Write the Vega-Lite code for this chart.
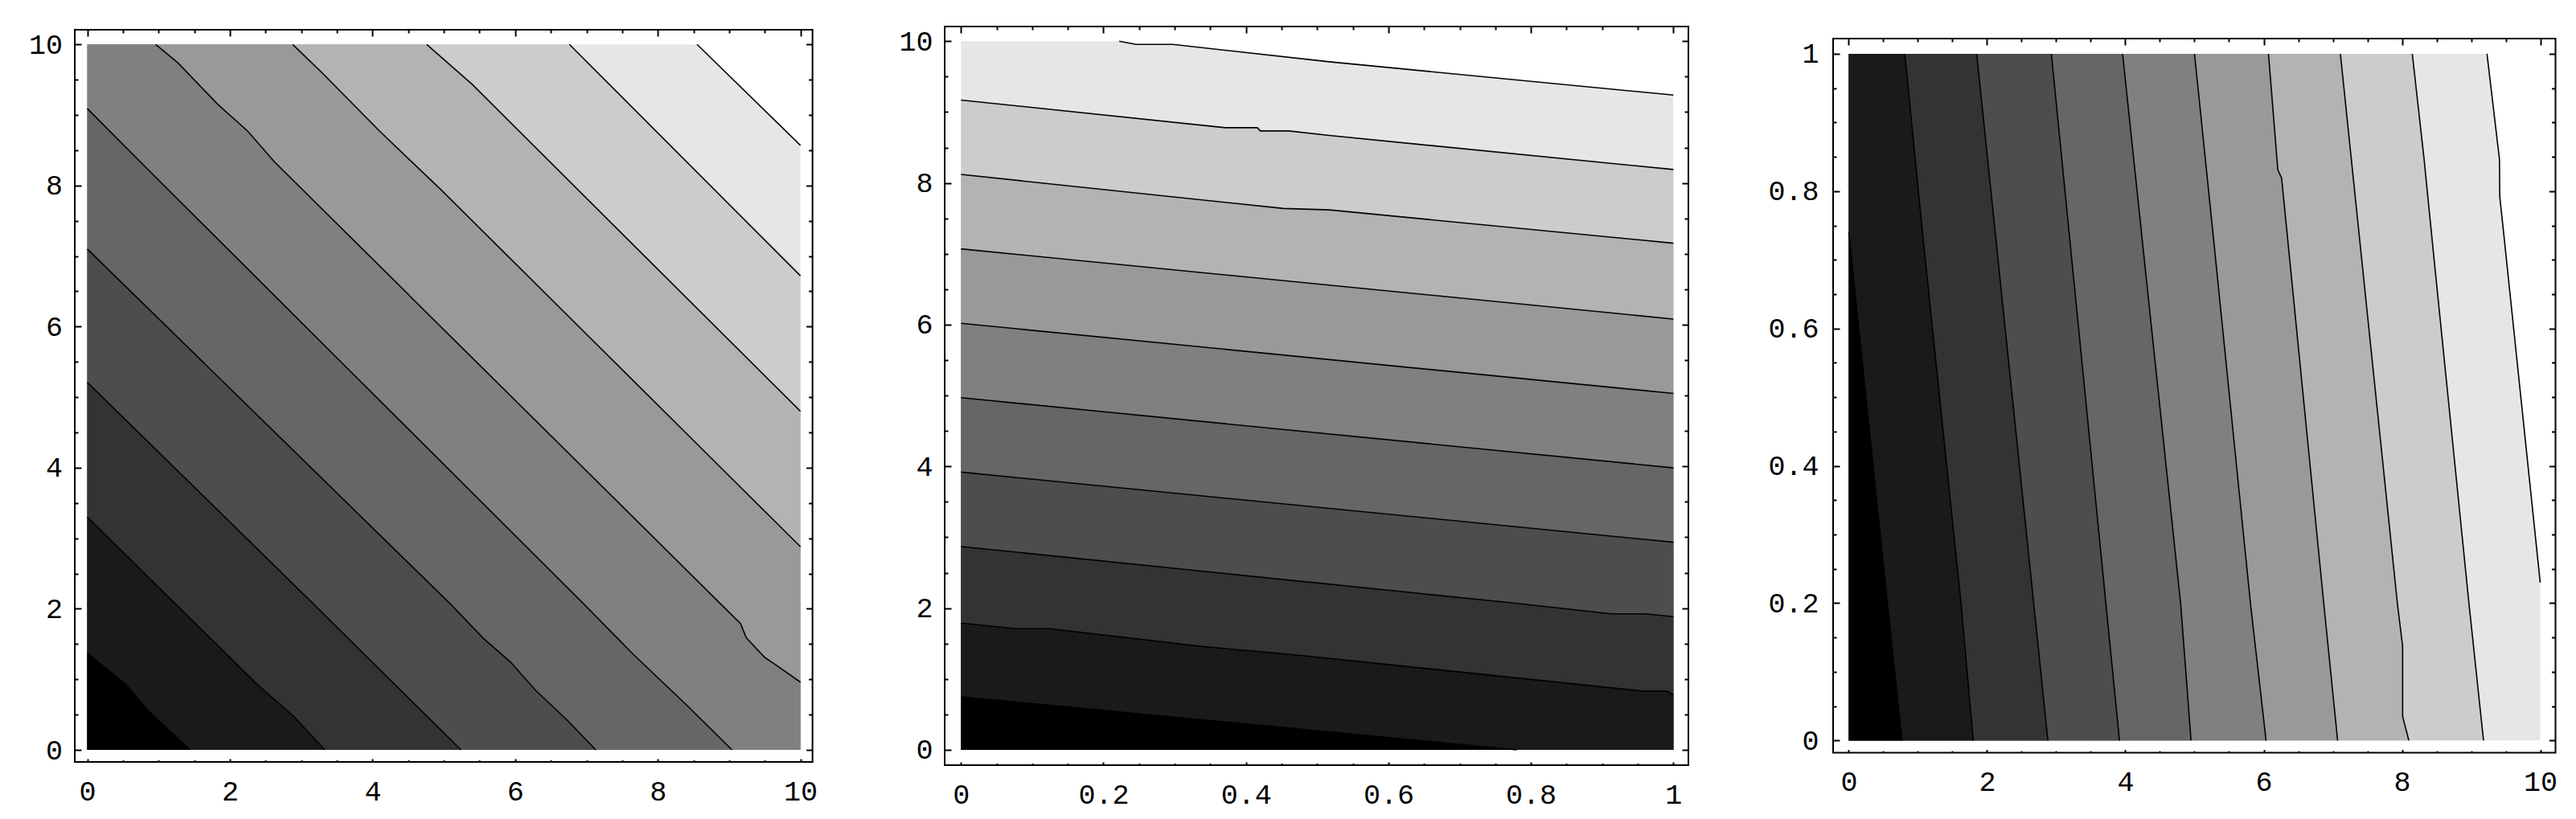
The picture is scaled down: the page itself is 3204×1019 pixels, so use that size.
{
  "$schema": "https://vega.github.io/schema/vega-lite/v6.json",
  "background": "white",
  "padding": {"left": 0, "top": 0, "right": 0, "bottom": 12},
  "spacing": 0,
  "config": {
    "view": {"stroke": "black", "strokeWidth": 2},
    "axis": {"domain": false, "grid": false, "labelFont": "Liberation Mono", "labelFontSize": 35, "labelColor": "black", "tickColor": "black", "tickWidth": 2, "labelFlush": false, "labelOverlap": false, "maxExtent": 400}
  },
  "datasets": {
    "p1": [
      {"c":10,"x":0,"y":10,"l":0},{"c":10,"x":8.55,"y":10,"l":1},{"c":10,"x":10,"y":8.57,"l":1},
      {"c":9,"x":0,"y":10,"l":0},{"c":9,"x":6.76,"y":10,"l":1},{"c":9,"x":10,"y":6.72,"l":1},
      {"c":8,"x":0,"y":10,"l":0},{"c":8,"x":4.76,"y":10,"l":1},{"c":8,"x":5.39,"y":9.44,"l":1},{"c":8,"x":10,"y":4.8,"l":1},
      {"c":7,"x":0,"y":10,"l":0},{"c":7,"x":2.88,"y":10,"l":1},{"c":7,"x":3.28,"y":9.61,"l":1},{"c":7,"x":4.1,"y":8.77,"l":1},{"c":7,"x":4.96,"y":7.94,"l":1},{"c":7,"x":10,"y":2.88,"l":1},
      {"c":6,"x":0,"y":10,"l":0},{"c":6,"x":0.96,"y":10,"l":1},{"c":6,"x":1.27,"y":9.74,"l":1},{"c":6,"x":1.83,"y":9.15,"l":1},{"c":6,"x":2.25,"y":8.77,"l":1},{"c":6,"x":2.62,"y":8.34,"l":1},{"c":6,"x":8.88,"y":2.07,"l":1},{"c":6,"x":9.16,"y":1.79,"l":1},{"c":6,"x":9.24,"y":1.59,"l":1},{"c":6,"x":9.5,"y":1.31,"l":1},{"c":6,"x":9.62,"y":1.23,"l":1},{"c":6,"x":10,"y":0.96,"l":1},
      {"c":5,"x":0,"y":9.09,"l":1},{"c":5,"x":0.857,"y":8.22,"l":1},{"c":5,"x":6.96,"y":2.07,"l":1},{"c":5,"x":7.66,"y":1.35,"l":1},{"c":5,"x":8.41,"y":0.63,"l":1},{"c":5,"x":9.04,"y":0,"l":1},{"c":5,"x":10,"y":0,"l":0},
      {"c":4,"x":0,"y":7.1,"l":1},{"c":4,"x":5.09,"y":2.07,"l":1},{"c":4,"x":5.555,"y":1.58,"l":1},{"c":4,"x":5.93,"y":1.25,"l":1},{"c":4,"x":6.29,"y":0.84,"l":1},{"c":4,"x":6.74,"y":0.41,"l":1},{"c":4,"x":7.13,"y":0,"l":1},{"c":4,"x":10,"y":0,"l":0},
      {"c":3,"x":0,"y":5.21,"l":1},{"c":3,"x":3.17,"y":2.07,"l":1},{"c":3,"x":5.24,"y":0,"l":1},{"c":3,"x":10,"y":0,"l":0},
      {"c":2,"x":0,"y":3.3,"l":1},{"c":2,"x":2.38,"y":0.93,"l":1},{"c":2,"x":2.9,"y":0.47,"l":1},{"c":2,"x":3.33,"y":0,"l":1},{"c":2,"x":10,"y":0,"l":0},
      {"c":1,"x":0,"y":1.37,"l":1},{"c":1,"x":0.54,"y":0.93,"l":1},{"c":1,"x":0.84,"y":0.57,"l":1},{"c":1,"x":1.44,"y":0,"l":1},{"c":1,"x":10,"y":0,"l":0}
    ],
    "p2": [
      {"c":10,"x":0,"y":10,"l":0},{"c":10,"x":0.222,"y":10,"l":1},{"c":10,"x":0.2457,"y":9.955,"l":1},{"c":10,"x":0.2976,"y":9.955,"l":1},{"c":10,"x":0.517,"y":9.71,"l":1},{"c":10,"x":1,"y":9.24,"l":1},
      {"c":9,"x":0,"y":9.17,"l":1},{"c":9,"x":0.371,"y":8.78,"l":1},{"c":9,"x":0.416,"y":8.78,"l":1},{"c":9,"x":0.42,"y":8.735,"l":1},{"c":9,"x":0.46,"y":8.735,"l":1},{"c":9,"x":0.517,"y":8.67,"l":1},{"c":9,"x":1,"y":8.19,"l":1},
      {"c":8,"x":0,"y":8.12,"l":1},{"c":8,"x":0.453,"y":7.64,"l":1},{"c":8,"x":0.517,"y":7.62,"l":1},{"c":8,"x":1,"y":7.15,"l":1},
      {"c":7,"x":0,"y":7.07,"l":1},{"c":7,"x":1,"y":6.08,"l":1},
      {"c":6,"x":0,"y":6.02,"l":1},{"c":6,"x":1,"y":5.03,"l":1},
      {"c":5,"x":0,"y":4.97,"l":1},{"c":5,"x":1,"y":3.98,"l":1},
      {"c":4,"x":0,"y":3.92,"l":1},{"c":4,"x":1,"y":2.93,"l":1},
      {"c":3,"x":0,"y":2.87,"l":1},{"c":3,"x":0.778,"y":2.07,"l":1},{"c":3,"x":0.9135,"y":1.92,"l":1},{"c":3,"x":0.961,"y":1.92,"l":1},{"c":3,"x":1,"y":1.88,"l":1},
      {"c":2,"x":0,"y":1.79,"l":1},{"c":2,"x":0.079,"y":1.71,"l":1},{"c":2,"x":0.125,"y":1.71,"l":1},{"c":2,"x":0.341,"y":1.456,"l":1},{"c":2,"x":0.4605,"y":1.35,"l":1},{"c":2,"x":0.957,"y":0.83,"l":1},{"c":2,"x":0.991,"y":0.83,"l":1},{"c":2,"x":1,"y":0.78,"l":1},
      {"c":1,"x":0,"y":0.75,"l":1},{"c":1,"x":0.517,"y":0.254,"l":1},{"c":1,"x":0.78,"y":0,"l":1},{"c":1,"x":1,"y":0,"l":0}
    ],
    "p3": [
      {"c":10,"x":10,"y":0,"l":0},{"c":10,"x":10,"y":0.23,"l":1},{"c":10,"x":9.485,"y":0.726,"l":1},{"c":10,"x":9.415,"y":0.792,"l":1},{"c":10,"x":9.41,"y":0.847,"l":1},{"c":10,"x":9.23,"y":1,"l":1},
      {"c":9,"x":9.18,"y":0,"l":1},{"c":9,"x":8.97,"y":0.199,"l":1},{"c":9,"x":8.44,"y":0.726,"l":1},{"c":9,"x":8.32,"y":0.847,"l":1},{"c":9,"x":8.15,"y":1,"l":1},
      {"c":8,"x":8.1,"y":0,"l":1},{"c":8,"x":8.01,"y":0.035,"l":1},{"c":8,"x":8.01,"y":0.137,"l":1},{"c":8,"x":7.935,"y":0.199,"l":1},{"c":8,"x":7.11,"y":1,"l":1},
      {"c":7,"x":7.07,"y":0,"l":1},{"c":7,"x":6.87,"y":0.199,"l":1},{"c":7,"x":6.26,"y":0.819,"l":1},{"c":7,"x":6.205,"y":0.831,"l":1},{"c":7,"x":6.07,"y":1,"l":1},
      {"c":6,"x":6.035,"y":0,"l":1},{"c":6,"x":5.81,"y":0.199,"l":1},{"c":6,"x":5.28,"y":0.726,"l":1},{"c":6,"x":5.0,"y":1,"l":1},
      {"c":5,"x":4.95,"y":0,"l":1},{"c":5,"x":4.8,"y":0.199,"l":1},{"c":5,"x":3.96,"y":1,"l":1},
      {"c":4,"x":3.915,"y":0,"l":1},{"c":4,"x":2.93,"y":1,"l":1},
      {"c":3,"x":2.88,"y":0,"l":1},{"c":3,"x":1.85,"y":1,"l":1},
      {"c":2,"x":1.8,"y":0,"l":1},{"c":2,"x":1.624,"y":0.199,"l":1},{"c":2,"x":1.08,"y":0.726,"l":1},{"c":2,"x":0.81,"y":1,"l":1},
      {"c":1,"x":0.77,"y":0,"l":1},{"c":1,"x":0.56,"y":0.199,"l":1},{"c":1,"x":0,"y":0.74,"l":1},{"c":1,"x":0,"y":1,"l":0}
    ]
  },
  "hconcat": [
    {
      "spacing": 0,
      "vconcat": [
        {"width": 10, "height": 35, "data": {"values": []}, "mark": "point", "view": {"stroke": null}},
        {
          "width": 917.6, "height": 911,
          "data": {"name": "p1"},
          "resolve": {"axis": {"x": "independent", "y": "independent"}},
          "layer": [
            {
              "transform": [{"filter": "datum.c >= 6"}],
              "mark": {"type": "area"},
              "encoding": {
                "x": {"field": "x", "type": "quantitative", "scale": {"domain": [-0.176, 10.169], "nice": false, "zero": false}, "axis": {"orient": "bottom", "values": [0,2,4,6,8,10], "tickSize": -4, "labelPadding": 23, "title": null, "labelExpr": "'' + datum.value", "minExtent": 0}},
                "y": {"field": "y", "type": "quantitative", "stack": null, "scale": {"domain": [-0.1709, 10.2085], "nice": false, "zero": false}, "axis": {"orient": "left", "values": [0,2,4,6,8,10], "tickSize": -8, "labelPadding": 23.5, "title": null, "labelExpr": "'' + datum.value", "minExtent": 92}},
                "y2": {"datum": 0},
                "color": {"field": "c", "type": "ordinal", "scale": {"domain": [1,2,3,4,5,6,7,8,9,10], "range": ["#000000","#1a1a1a","#333333","#4d4d4d","#666666","#808080","#999999","#b3b3b3","#cccccc","#e6e6e6"]}, "legend": null}
              }
            },
            {
              "transform": [{"filter": "datum.c <= 5"}],
              "mark": {"type": "area"},
              "encoding": {
                "x": {"field": "x", "type": "quantitative", "scale": {"domain": [-0.176, 10.169], "nice": false, "zero": false}, "axis": {"orient": "bottom", "values": [0.5,1,1.5,2.5,3,3.5,4.5,5,5.5,6.5,7,7.5,8.5,9,9.5], "tickSize": -2.5, "labels": false, "title": null, "minExtent": 0}},
                "y": {"field": "y", "type": "quantitative", "stack": null, "scale": {"domain": [-0.1709, 10.2085], "nice": false, "zero": false}, "axis": {"orient": "left", "values": [0.5,1,1.5,2.5,3,3.5,4.5,5,5.5,6.5,7,7.5,8.5,9,9.5], "tickSize": -4, "labels": false, "title": null, "minExtent": 0}},
                "y2": {"datum": 0},
                "color": {"field": "c", "type": "ordinal", "scale": {"domain": [1,2,3,4,5,6,7,8,9,10], "range": ["#000000","#1a1a1a","#333333","#4d4d4d","#666666","#808080","#999999","#b3b3b3","#cccccc","#e6e6e6"]}, "legend": null}
              }
            },
            {
              "transform": [{"filter": "datum.l == 1 && datum.c <= 5"}],
              "mark": {"type": "line", "color": "black", "strokeWidth": 1.6},
              "encoding": {
                "x": {"field": "x", "type": "quantitative", "scale": {"domain": [-0.176, 10.169], "nice": false, "zero": false}, "axis": {"orient": "top", "values": [0,2,4,6,8,10], "tickSize": -8, "labels": false, "title": null, "minExtent": 0}},
                "y": {"field": "y", "type": "quantitative", "scale": {"domain": [-0.1709, 10.2085], "nice": false, "zero": false}, "axis": {"orient": "right", "values": [0,2,4,6,8,10], "tickSize": -8, "labels": false, "title": null, "minExtent": 0}},
                "detail": {"field": "c"},
                "order": {"field": "x"}
              }
            },
            {
              "transform": [{"filter": "datum.l == 1 && datum.c >= 6"}],
              "mark": {"type": "line", "color": "black", "strokeWidth": 1.6},
              "encoding": {
                "x": {"field": "x", "type": "quantitative", "scale": {"domain": [-0.176, 10.169], "nice": false, "zero": false}, "axis": {"orient": "top", "values": [0.5,1,1.5,2.5,3,3.5,4.5,5,5.5,6.5,7,7.5,8.5,9,9.5], "tickSize": -4, "labels": false, "title": null, "minExtent": 0}},
                "y": {"field": "y", "type": "quantitative", "scale": {"domain": [-0.1709, 10.2085], "nice": false, "zero": false}, "axis": {"orient": "right", "values": [0.5,1,1.5,2.5,3,3.5,4.5,5,5.5,6.5,7,7.5,8.5,9,9.5], "tickSize": -5, "labels": false, "title": null, "minExtent": 0}},
                "detail": {"field": "c"},
                "order": {"field": "x"}
              }
            }
          ]
        }
      ]
    },
    {
      "spacing": 0,
      "vconcat": [
        {"width": 10, "height": 31, "data": {"values": []}, "mark": "point", "view": {"stroke": null}},
        {
          "width": 925, "height": 919,
          "data": {"name": "p2"},
          "resolve": {"axis": {"x": "independent", "y": "independent"}},
          "layer": [
            {
              "transform": [{"filter": "datum.c >= 6"}],
              "mark": {"type": "area"},
              "encoding": {
                "x": {"field": "x", "type": "quantitative", "scale": {"domain": [-0.0229, 1.0211], "nice": false, "zero": false}, "axis": {"orient": "bottom", "values": [0,0.2,0.4,0.6,0.8,1], "tickSize": -4, "labelPadding": 23, "title": null, "labelExpr": "'' + datum.value", "minExtent": 0}},
                "y": {"field": "y", "type": "quantitative", "stack": null, "scale": {"domain": [-0.2155, 10.2076], "nice": false, "zero": false}, "axis": {"orient": "left", "values": [0,2,4,6,8,10], "tickSize": -8, "labelPadding": 23, "title": null, "labelExpr": "'' + datum.value", "minExtent": 156}},
                "y2": {"datum": 0},
                "color": {"field": "c", "type": "ordinal", "scale": {"domain": [1,2,3,4,5,6,7,8,9,10], "range": ["#000000","#1a1a1a","#333333","#4d4d4d","#666666","#808080","#999999","#b3b3b3","#cccccc","#e6e6e6"]}, "legend": null}
              }
            },
            {
              "transform": [{"filter": "datum.c <= 5"}],
              "mark": {"type": "area"},
              "encoding": {
                "x": {"field": "x", "type": "quantitative", "scale": {"domain": [-0.0229, 1.0211], "nice": false, "zero": false}, "axis": {"orient": "bottom", "values": [0.05,0.1,0.15,0.25,0.3,0.35,0.45,0.5,0.55,0.65,0.7,0.75,0.85,0.9,0.95], "tickSize": -2.5, "labels": false, "title": null, "minExtent": 0}},
                "y": {"field": "y", "type": "quantitative", "stack": null, "scale": {"domain": [-0.2155, 10.2076], "nice": false, "zero": false}, "axis": {"orient": "left", "values": [0.5,1,1.5,2.5,3,3.5,4.5,5,5.5,6.5,7,7.5,8.5,9,9.5], "tickSize": -4, "labels": false, "title": null, "minExtent": 0}},
                "y2": {"datum": 0},
                "color": {"field": "c", "type": "ordinal", "scale": {"domain": [1,2,3,4,5,6,7,8,9,10], "range": ["#000000","#1a1a1a","#333333","#4d4d4d","#666666","#808080","#999999","#b3b3b3","#cccccc","#e6e6e6"]}, "legend": null}
              }
            },
            {
              "transform": [{"filter": "datum.l == 1 && datum.c <= 5"}],
              "mark": {"type": "line", "color": "black", "strokeWidth": 1.6},
              "encoding": {
                "x": {"field": "x", "type": "quantitative", "scale": {"domain": [-0.0229, 1.0211], "nice": false, "zero": false}, "axis": {"orient": "top", "values": [0,0.2,0.4,0.6,0.8,1], "tickSize": -8, "labels": false, "title": null, "minExtent": 0}},
                "y": {"field": "y", "type": "quantitative", "scale": {"domain": [-0.2155, 10.2076], "nice": false, "zero": false}, "axis": {"orient": "right", "values": [0,2,4,6,8,10], "tickSize": -8, "labels": false, "title": null, "minExtent": 0}},
                "detail": {"field": "c"},
                "order": {"field": "x"}
              }
            },
            {
              "transform": [{"filter": "datum.l == 1 && datum.c >= 6"}],
              "mark": {"type": "line", "color": "black", "strokeWidth": 1.6},
              "encoding": {
                "x": {"field": "x", "type": "quantitative", "scale": {"domain": [-0.0229, 1.0211], "nice": false, "zero": false}, "axis": {"orient": "top", "values": [0.05,0.1,0.15,0.25,0.3,0.35,0.45,0.5,0.55,0.65,0.7,0.75,0.85,0.9,0.95], "tickSize": -4, "labels": false, "title": null, "minExtent": 0}},
                "y": {"field": "y", "type": "quantitative", "scale": {"domain": [-0.2155, 10.2076], "nice": false, "zero": false}, "axis": {"orient": "right", "values": [0.5,1,1.5,2.5,3,3.5,4.5,5,5.5,6.5,7,7.5,8.5,9,9.5], "tickSize": -5, "labels": false, "title": null, "minExtent": 0}},
                "detail": {"field": "c"},
                "order": {"field": "x"}
              }
            }
          ]
        }
      ]
    },
    {
      "spacing": 0,
      "vconcat": [
        {"width": 10, "height": 46, "data": {"values": []}, "mark": "point", "view": {"stroke": null}},
        {
          "width": 898.5, "height": 888.6,
          "data": {"name": "p3"},
          "resolve": {"axis": {"x": "independent", "y": "independent"}},
          "layer": [
            {
              "transform": [{"filter": "datum.c >= 6"}],
              "mark": {"type": "area", "orient": "horizontal"},
              "encoding": {
                "x": {"field": "x", "type": "quantitative", "stack": null, "scale": {"domain": [-0.2267, 10.2209], "nice": false, "zero": false}, "axis": {"orient": "bottom", "values": [0,2,4,6,8,10], "tickSize": -4, "labelPadding": 23, "title": null, "labelExpr": "'' + datum.value", "minExtent": 0}},
                "x2": {"datum": 0},
                "y": {"field": "y", "type": "quantitative", "scale": {"domain": [-0.0179, 1.0222], "nice": false, "zero": false}, "axis": {"orient": "left", "values": [0,0.2,0.4,0.6,0.8,1], "tickSize": -8, "labelPadding": 26, "title": null, "labelExpr": "'' + datum.value", "minExtent": 177}},
                "color": {"field": "c", "type": "ordinal", "scale": {"domain": [1,2,3,4,5,6,7,8,9,10], "range": ["#000000","#1a1a1a","#333333","#4d4d4d","#666666","#808080","#999999","#b3b3b3","#cccccc","#e6e6e6"]}, "legend": null}
              }
            },
            {
              "transform": [{"filter": "datum.c <= 5"}],
              "mark": {"type": "area", "orient": "horizontal"},
              "encoding": {
                "x": {"field": "x", "type": "quantitative", "stack": null, "scale": {"domain": [-0.2267, 10.2209], "nice": false, "zero": false}, "axis": {"orient": "bottom", "values": [0.5,1,1.5,2.5,3,3.5,4.5,5,5.5,6.5,7,7.5,8.5,9,9.5], "tickSize": -2.5, "labels": false, "title": null, "minExtent": 0}},
                "x2": {"datum": 0},
                "y": {"field": "y", "type": "quantitative", "scale": {"domain": [-0.0179, 1.0222], "nice": false, "zero": false}, "axis": {"orient": "left", "values": [0.05,0.1,0.15,0.25,0.3,0.35,0.45,0.5,0.55,0.65,0.7,0.75,0.85,0.9,0.95], "tickSize": -4, "labels": false, "title": null, "minExtent": 0}},
                "color": {"field": "c", "type": "ordinal", "scale": {"domain": [1,2,3,4,5,6,7,8,9,10], "range": ["#000000","#1a1a1a","#333333","#4d4d4d","#666666","#808080","#999999","#b3b3b3","#cccccc","#e6e6e6"]}, "legend": null}
              }
            },
            {
              "transform": [{"filter": "datum.l == 1 && datum.c <= 5"}],
              "mark": {"type": "line", "color": "black", "strokeWidth": 1.6},
              "encoding": {
                "x": {"field": "x", "type": "quantitative", "scale": {"domain": [-0.2267, 10.2209], "nice": false, "zero": false}, "axis": {"orient": "top", "values": [0,2,4,6,8,10], "tickSize": -8, "labels": false, "title": null, "minExtent": 0}},
                "y": {"field": "y", "type": "quantitative", "scale": {"domain": [-0.0179, 1.0222], "nice": false, "zero": false}, "axis": {"orient": "right", "values": [0,0.2,0.4,0.6,0.8,1], "tickSize": -8, "labels": false, "title": null, "minExtent": 0}},
                "detail": {"field": "c"},
                "order": {"field": "y"}
              }
            },
            {
              "transform": [{"filter": "datum.l == 1 && datum.c >= 6"}],
              "mark": {"type": "line", "color": "black", "strokeWidth": 1.6},
              "encoding": {
                "x": {"field": "x", "type": "quantitative", "scale": {"domain": [-0.2267, 10.2209], "nice": false, "zero": false}, "axis": {"orient": "top", "values": [0.5,1,1.5,2.5,3,3.5,4.5,5,5.5,6.5,7,7.5,8.5,9,9.5], "tickSize": -4, "labels": false, "title": null, "minExtent": 0}},
                "y": {"field": "y", "type": "quantitative", "scale": {"domain": [-0.0179, 1.0222], "nice": false, "zero": false}, "axis": {"orient": "right", "values": [0.05,0.1,0.15,0.25,0.3,0.35,0.45,0.5,0.55,0.65,0.7,0.75,0.85,0.9,0.95], "tickSize": -5, "labels": false, "title": null, "minExtent": 0}},
                "detail": {"field": "c"},
                "order": {"field": "y"}
              }
            }
          ]
        }
      ]
    }
  ]
}
